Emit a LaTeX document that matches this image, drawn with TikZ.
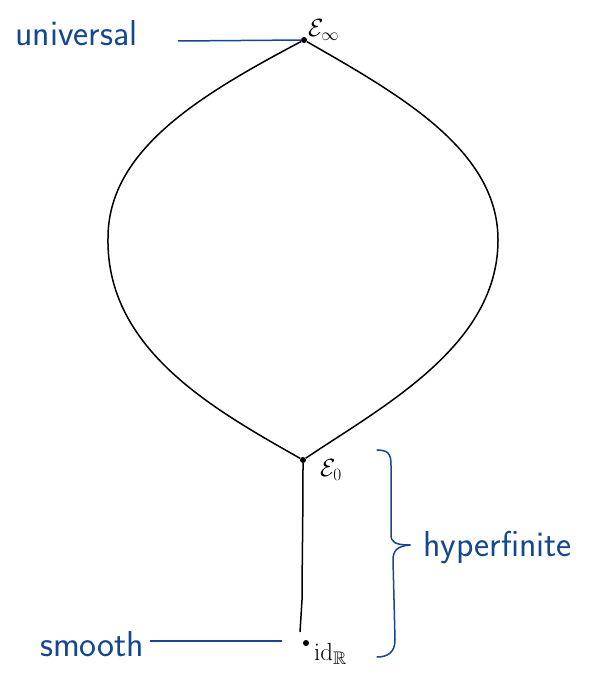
\documentclass[tikz,border=0pt]{standalone}
\usepackage{amsmath,amssymb}
\definecolor{handblue}{RGB}{20,70,145}
\tikzset{
  lens/.style={draw=black,line width=1.5pt,line join=round},
  bluetxt/.style={text=handblue,font=\sffamily\fontsize{36}{38}\selectfont,inner sep=0pt},
  blackmath/.style={text=black,font=\fontsize{26}{28}\selectfont,inner sep=0pt},
  blueline/.style={draw=handblue,line width=1.5pt},
  dotmark/.style={circle,fill=black,inner sep=0pt,minimum size=6pt}
}
\begin{document}
\begin{tikzpicture}[x=1pt,y=-1pt]
\useasboundingbox (0,0) rectangle (592,682);
% points
\node[dotmark] (einf) at (304,40) {};
\node[dotmark] (ezero) at (303,460) {};
\node[dotmark] (id) at (306,643) {};
\coordinate (lineend) at (300,632);
% lens
\draw[lens] (einf) .. controls (200,95) and (108,150) .. (108,238)
  .. controls (106,350) and (215,410) .. (ezero);
\draw[lens] (einf) .. controls (400,95) and (498,150) .. (498,240)
  .. controls (498,345) and (385,405) .. (ezero);
% stem
\draw[lens] (ezero) .. controls (303,520) and (302,570) .. (302,600) -- (lineend);
% labels
\node[blackmath,anchor=west] (linf) at (308,30) {$\mathcal{E}_{\infty}$};
\node[blackmath,anchor=west] (lzero) at (320,470) {$\mathcal{E}_{0}$};
\node[blackmath,anchor=west] (lid) at (314,654) {$\mathrm{id}_{\mathbb{R}}$};
% blue annotations
\node[bluetxt,anchor=base west] (univ) at (15,46) {universal};
\coordinate (ustart) at (178,41);
\draw[blueline] (ustart) -- (einf);
\node[bluetxt,anchor=base west] (smooth) at (40,656) {smooth};
\coordinate (sstart) at (150,641);
\coordinate (send) at (282,641);
\draw[blueline] (sstart) -- (send);
% brace
\coordinate (btop) at (377,450);
\coordinate (btip) at (410,545);
\coordinate (bbot) at (377,657);
\draw[blueline,line cap=round,line join=round] (btop) .. controls (392,450) and (391,458) .. (391,470)
  -- (391,535) .. controls (391,542) and (395,545) .. (btip);
\draw[blueline,line cap=round,line join=round] (btip) .. controls (398,546) and (393,550) .. (393,560)
  -- (395,640) .. controls (395,652) and (388,657) .. (bbot);
\node[bluetxt,anchor=base west] (hyp) at (423,556) {hyperfinite};
\end{tikzpicture}
\end{document}
